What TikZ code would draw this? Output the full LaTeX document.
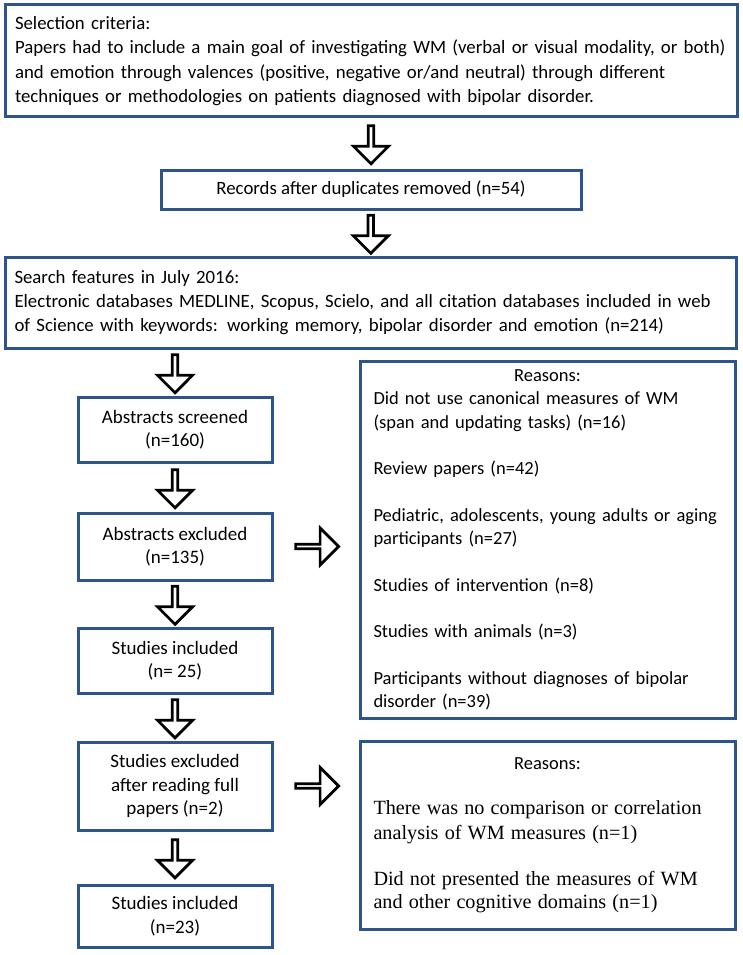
\documentclass[tikz,border=0pt]{standalone}
\usepackage{fontspec}
\setmainfont{Carlito}
\newfontfamily\timesfont{Liberation Serif}
\usetikzlibrary{shapes.arrows, positioning, calc}
\definecolor{BoxBlue}{RGB}{46,84,140}

\begin{document}
\begin{tikzpicture}[x=1pt, y=-1pt,
    box/.style={draw=BoxBlue, line width=3pt, fill=white, inner sep=0pt, align=center, font=\fontsize{18.8}{24.2}\selectfont},
    widebox/.style={box, align=left, text width=#1},
    stagebox/.style={box, minimum width=194pt, font=\fontsize{19}{23.5}\selectfont},
    downarrow/.style={single arrow, draw=black, line width=2.7pt, fill=white, minimum height=38pt, minimum width=35pt, single arrow head extend=7.5pt, inner sep=0pt, rotate=-90},
    sidearrow/.style={single arrow, draw=black, line width=2.7pt, fill=white, minimum height=43pt, minimum width=37pt, single arrow head extend=10pt, inner sep=0pt}
]
\useasboundingbox (0,0) rectangle (743,955);

% Top part
\node[widebox=712pt, minimum width=732pt, minimum height=112pt] (crit) at (371,61) {Selection criteria:\\
  Papers had to include a main goal of investigating WM (verbal or visual modality, or both)\\
  and emotion through valences (positive, negative or/and neutral) through different\\
  techniques or methodologies on patients diagnosed with bipolar disorder.};
\node[box, minimum width=420pt, minimum height=39pt] (dup) at (371,189.5) {Records after duplicates removed (n=54)};
\node[widebox=712pt, minimum width=731pt, minimum height=91pt] (search) at (370.5,302.5) {Search features in July 2016:\\
  Electronic databases MEDLINE, Scopus, Scielo, and all citation databases included in web\\
  of Science with keywords: working memory, bipolar disorder and emotion (n=214)};

% Left column
\node[stagebox, minimum height=65pt] (screen) at (175,429.5) {Abstracts screened\\(n=160)};
\node[stagebox, minimum height=67pt] (absex) at (175,546.5) {Abstracts excluded\\(n=135)};
\node[stagebox, minimum height=65pt] (incl) at (175,660.5) {Studies included\\(n= 25)};
\node[stagebox, minimum height=88pt] (studex) at (175,786) {Studies excluded\\after reading full\\papers (n=2)};
\node[stagebox, minimum height=62pt] (final) at (175,916) {Studies included\\(n=23)};

% Reasons
\node[widebox=348pt, minimum width=375pt, minimum height=357pt, font=\fontsize{18.5}{23.3}\selectfont] (why1) at (547.5,540) {\makebox[\linewidth][c]{Reasons:}\\
  Did not use canonical measures of WM\\
  (span and updating tasks) (n=16)\\[23.3pt]
  Review papers (n=42)\\[23.3pt]
  Pediatric, adolescents, young adults or aging\\
  participants (n=27)\\[23.3pt]
  Studies of intervention (n=8)\\[23.3pt]
  Studies with animals (n=3)\\[23.3pt]
  Participants without diagnoses of bipolar\\
  disorder (n=39)};
\node[widebox=348pt, minimum width=375pt, minimum height=188pt, font=\fontsize{18.5}{23.3}\selectfont] (why2) at (547.5,835) {\makebox[\linewidth][c]{Reasons:}\\[20pt]
  \timesfont\fontsize{20.2}{25}\selectfont There was no comparison or correlation\\
  analysis of WM measures (n=1)\\[21pt]
  Did not presented the measures of WM\\
  and other cognitive domains (n=1)};

% Block arrows
\node[downarrow] (a1) at ($(crit.south)!0.5!(dup.north)$) {};
\node[downarrow] (a2) at ($(dup.south)!0.5!(search.north)$) {};
\node[downarrow] (a3) at ($(search.south -| screen.north)!0.5!(screen.north)$) {};
\node[downarrow] (a4) at ($(screen.south)!0.5!(absex.north)$) {};
\node[downarrow] (a5) at ($(absex.south)!0.5!(incl.north)$) {};
\node[downarrow] (a6) at ($(incl.south)!0.5!(studex.north)$) {};
\node[downarrow] (a7) at ($(studex.south)!0.5!(final.north)$) {};
\node[sidearrow] (b1) at ($(absex.east)!0.5!(absex.east -| why1.west)$) {};
\node[sidearrow] (b2) at ($(studex.east)!0.5!(studex.east -| why2.west)$) {};

\end{tikzpicture}
\end{document}
